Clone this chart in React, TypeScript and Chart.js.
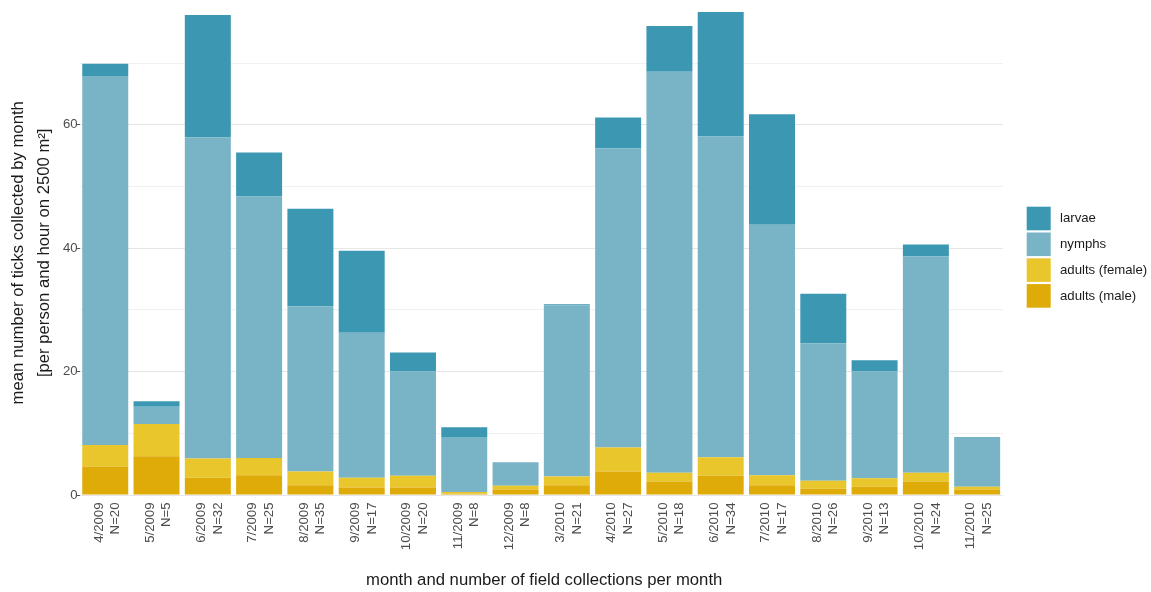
import React, { useEffect, useRef } from "react";
import { Chart, registerables } from "chart.js";

Chart.register(...registerables);

// Sampling months and number of field collections in each month
const months = [
  "4/2009", "5/2009", "6/2009", "7/2009", "8/2009", "9/2009", "10/2009", "11/2009", "12/2009",
  "3/2010", "4/2010", "5/2010", "6/2010", "7/2010", "8/2010", "9/2010", "10/2010", "11/2010",
];
const collections = [20, 5, 32, 25, 35, 17, 20, 8, 8, 21, 27, 18, 34, 17, 26, 13, 24, 25];

// Mean ticks per person and hour on 2500 m², by life stage
const adultsMale = [4.6, 6.3, 2.8, 3.2, 1.6, 1.2, 1.2, 0.2, 0.9, 1.6, 3.8, 2.2, 3.1, 1.6, 1.0, 1.35, 2.2, 0.9];
const adultsFemale = [3.5, 5.2, 3.1, 2.8, 2.2, 1.6, 1.9, 0.3, 0.6, 1.4, 3.9, 1.4, 3.0, 1.6, 1.3, 1.35, 1.4, 0.45];
const nymphs = [59.8, 2.8, 52.1, 42.4, 26.8, 23.5, 16.9, 8.9, 3.8, 27.7, 48.5, 65.0, 52.0, 40.6, 22.3, 17.3, 35.1, 8.05];
const larvae = [2.0, 0.9, 19.8, 7.1, 15.8, 13.3, 3.1, 1.6, 0, 0.2, 5.0, 7.4, 20.2, 17.9, 8.0, 1.85, 1.9, 0];

const stageNames = ["larvae", "nymphs", "adults (female)", "adults (male)"];
const stageColors = ["#3B97B2", "#78B4C5", "#E9C62B", "#DFAB08"];

const yLabelTicks = [0, 20, 40, 60];

const FONT = "'Liberation Sans', Arial, Helvetica, sans-serif";
const W = 1151;
const H = 592;
const AREA = { left: 79.6, right: 1002.8, top: 7.6, bottom: 495 };

const titlesAndLegend = {
  id: "titlesAndLegend",
  afterDraw(chart: Chart) {
    const ctx = chart.ctx;
    const area = chart.chartArea;
    ctx.save();

    // axis titles
    ctx.fillStyle = "#1a1a1a";
    ctx.font = `16.7px ${FONT}`;
    ctx.textAlign = "center";
    ctx.textBaseline = "middle";
    ctx.fillText(
      "month and number of field collections per month",
      (area.left + area.right) / 2 + 3,
      580
    );
    const cy = (area.top + area.bottom) / 2 + 1.5;
    ctx.save();
    ctx.translate(18.5, cy);
    ctx.rotate(-Math.PI / 2);
    ctx.fillText("mean number of ticks collected by month", 0, 0);
    ctx.restore();
    ctx.save();
    ctx.translate(44, cy);
    ctx.rotate(-Math.PI / 2);
    ctx.fillText("[per person and hour on 2500 m²]", 0, 0);
    ctx.restore();

    // legend
    const keyX = 1026.7;
    const keyW = 24;
    const keyH = 23.6;
    const pitch = 25.8;
    const top0 = 206.7;
    ctx.font = `13.2px ${FONT}`;
    ctx.textAlign = "left";
    stageNames.forEach((name, i) => {
      const y = top0 + i * pitch;
      ctx.fillStyle = stageColors[i];
      ctx.fillRect(keyX, y, keyW, keyH);
      ctx.fillStyle = "#1a1a1a";
      ctx.fillText(name, 1060, y + keyH / 2);
    });
    ctx.restore();
  },
};

export default function App() {
  const canvasRef = useRef<HTMLCanvasElement | null>(null);

  useEffect(() => {
    const canvas = canvasRef.current;
    if (!canvas) return;

    const labels = months.map((m, i) => [m, `N=${collections[i]}`]);
    const stacks = [adultsMale, adultsFemale, nymphs, larvae];
    const stackNames = ["adults (male)", "adults (female)", "nymphs", "larvae"];
    const stackColors = [stageColors[3], stageColors[2], stageColors[1], stageColors[0]];

    const chart = new Chart(canvas, {
      type: "bar",
      data: {
        labels,
        datasets: stacks.map((values, i) => ({
          label: stackNames[i],
          data: values,
          backgroundColor: stackColors[i],
          borderWidth: 0,
          barPercentage: 46 / 51.3,
          categoryPercentage: 1,
        })),
      },
      options: {
        animation: false,
        responsive: false,
        devicePixelRatio: 1,
        layout: {
          padding: { left: 0, right: W - AREA.right, top: AREA.top, bottom: 0 },
        },
        plugins: {
          legend: { display: false },
          tooltip: { enabled: false },
        },
        scales: {
          x: {
            stacked: true,
            grid: { display: false, drawTicks: false },
            border: { display: false },
            ticks: {
              autoSkip: false,
              maxRotation: 90,
              minRotation: 90,
              padding: 7.5,
              labelOffset: -6.3,
              color: "#4d4d4d",
              font: { family: FONT, size: 13.2, lineHeight: 1.25 },
            },
            afterFit: (scale: any) => {
              scale.height = H - AREA.bottom;
            },
          },
          y: {
            stacked: true,
            min: 0,
            max: 79,
            border: { display: false },
            ticks: {
              stepSize: 10,
              includeBounds: false,
              padding: -1,
              color: "#4d4d4d",
              font: { family: FONT, size: 13.2 },
              callback: (v: any) => (yLabelTicks.includes(Number(v)) ? String(v) : ""),
            },
            grid: {
              color: (c: any) =>
                c.tick && yLabelTicks.includes(c.tick.value) ? "#e6e6e6" : "#f1f1f1",
              lineWidth: 1,
              tickLength: 3,
              tickColor: (c: any) =>
                c.tick && yLabelTicks.includes(c.tick.value) ? "#555555" : "rgba(0,0,0,0)",
            },
            afterFit: (scale: any) => {
              scale.width = AREA.left;
            },
          },
        },
      },
      plugins: [titlesAndLegend],
    });

    return () => chart.destroy();
  }, []);

  return (
    <div style={{ position: "absolute", left: 0, top: 0, width: W, height: H, background: "#ffffff" }}>
      <canvas ref={canvasRef} width={W} height={H} style={{ display: "block" }} />
    </div>
  );
}
